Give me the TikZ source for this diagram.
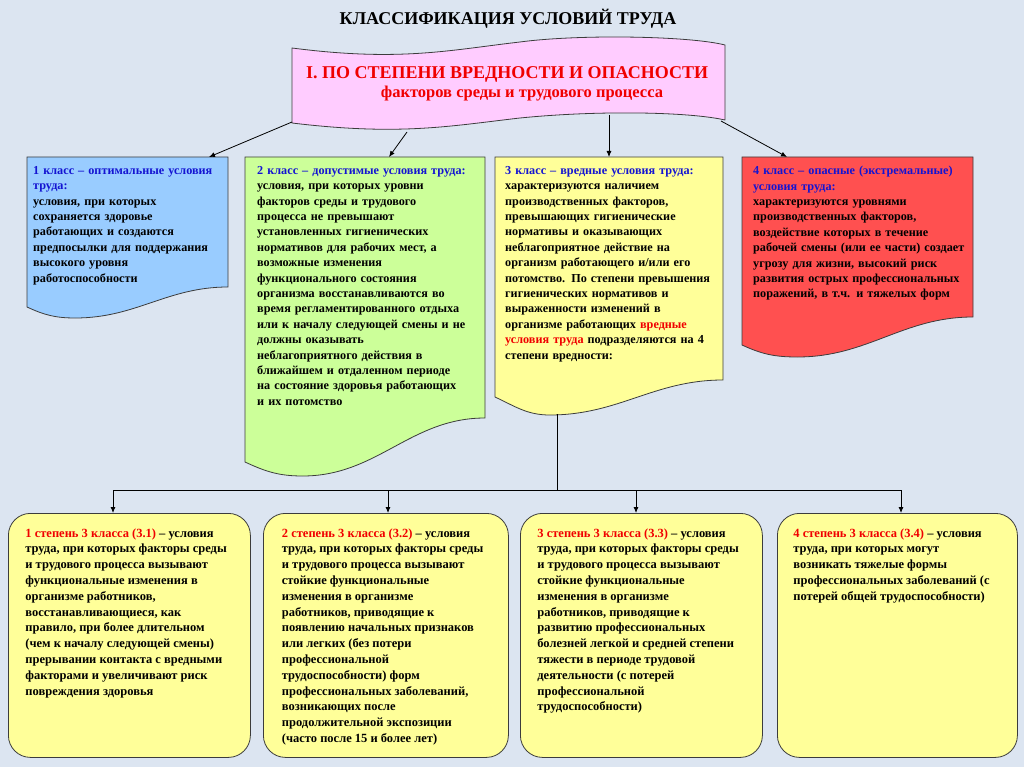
\documentclass[tikz,border=0pt]{standalone}
\usepackage{fontspec}
\setmainfont{Liberation Serif}
\usepackage{xcolor}
\usepackage{tikz}
\usetikzlibrary{arrows.meta, positioning, calc}

\definecolor{bgblue}{RGB}{220,229,241}
\definecolor{edgegray}{RGB}{60,60,60}
\definecolor{bannerpink}{RGB}{255,204,255}
\definecolor{classblue}{RGB}{153,204,255}
\definecolor{classgreen}{RGB}{204,255,153}
\definecolor{classyellow}{RGB}{255,255,153}
\definecolor{classred}{RGB}{255,80,80}
\definecolor{degyellow}{RGB}{255,255,153}
\definecolor{hdblue}{RGB}{20,20,210}
\definecolor{degred}{RGB}{240,0,0}

% document shape with a wavy bottom: fill, x1, x2, ytop, yleft, ylow, yright
\newcommand{\docshape}[7]{%
  \pgfmathsetmacro{\xlow}{#2+0.24*(#3-#2)}%
  \draw[draw=edgegray, line width=0.8pt, fill=#1] (#2,#4) -- (#3,#4) -- (#3,#7)
    to[out=180,in=0] (\xlow,#6) to[out=180,in=-25] (#2,#5) -- cycle;}
\newcommand{\degpar}[1]{\parbox[t][214pt][t]{208pt}{\raggedright #1}}

\begin{document}
\begin{tikzpicture}[x=1pt, y=-1pt,
    boxline/.style={draw=edgegray, line width=0.8pt},
    classtext/.style={anchor=north west, inner xsep=10pt, inner ysep=9pt, align=left,
                      font=\rmfamily\bfseries\fontsize{12.2}{15.4}\selectfont},
    degbox/.style={boxline, fill=degyellow, rounded corners=22pt, anchor=north west,
                   inner xsep=17pt, inner ysep=15pt, font=\rmfamily\bfseries\fontsize{12.5}{15.8}\selectfont},
    arr/.style={-{Latex[length=6pt,width=5pt]}, line width=0.8pt, black},
    wire/.style={line width=0.8pt, black}
]
\fill[bgblue] (0,0) rectangle (1024,767);
\useasboundingbox (0,0) rectangle (1024,767);

% title
\node[font=\rmfamily\bfseries\fontsize{18}{21}\selectfont] (title) at (508,19) {КЛАССИФИКАЦИЯ УСЛОВИЙ ТРУДА};

% banner
\draw[boxline, fill=bannerpink] (292,48) .. controls (400,62) and (450,50) .. (520,42)
  .. controls (580,34) and (690,36) .. (725,45) -- (725,120)
  .. controls (690,112) and (600,110) .. (520,118)
  .. controls (450,126) and (400,136) .. (292,123) -- cycle;
\node[align=center, text=degred, font=\rmfamily\bfseries] (banner) at (512,84)
  {{\fontsize{18}{20}\selectfont I. ПО СТЕПЕНИ ВРЕДНОСТИ И ОПАСНОСТИ\hspace*{10pt}}\\[3pt]
   {\fontsize{16.5}{19}\selectfont\hspace*{20pt}факторов среды и трудового процесса}};
\coordinate (b1) at (292,122);
\coordinate (b2) at (407,132);
\coordinate (b3) at (609,115);
\coordinate (b4) at (721,121);

% classes
\docshape{classblue}{27}{228}{157}{307}{318}{287}
\docshape{classgreen}{245}{485}{157}{462}{476}{418}
\docshape{classyellow}{495}{723}{157}{397}{415}{380}
\docshape{classred}{742}{973}{157}{345}{357}{317}

\node[classtext, inner xsep=6pt, text width=205pt] (c1) at (27,157)
  {\textcolor{hdblue}{1 класс – оптимальные условия\\ труда:}\\
   условия, при которых\\ сохраняется здоровье\\ работающих и создаются\\
   предпосылки для поддержания\\ высокого уровня\\ работоспособности};
\node[classtext, inner xsep=12pt, text width=235pt] (c2) at (245,157)
  {\textcolor{hdblue}{2 класс – допустимые условия труда:}\\
   условия, при которых уровни\\ факторов среды и трудового\\ процесса не превышают\\
   установленных гигиенических\\ нормативов для рабочих мест, а\\ возможные изменения\\
   функционального состояния\\ организма восстанавливаются во\\
   время регламентированного отдыха\\ или к началу следующей смены и не\\
   должны оказывать\\ неблагоприятного действия в\\ ближайшем и отдаленном периоде\\
   на состояние здоровья работающих\\ и их потомство};
\node[classtext, text width=235pt] (c3) at (495,157)
  {\textcolor{hdblue}{3 класс – вредные условия труда:}\\
   характеризуются наличием\\ производственных факторов,\\ превышающих гигиенические\\
   нормативы и оказывающих\\ неблагоприятное действие на\\ организм работающего и/или его\\
   потомство. По степени превышения\\ гигиенических нормативов и\\ выраженности изменений в\\
   организме работающих \textcolor{degred}{вредные}\\
   \textcolor{degred}{условия труда} подразделяются на 4\\ степени вредности:};
\node[classtext, inner xsep=11pt, text width=240pt] (c4) at (742,157)
  {\textcolor{hdblue}{4 класс – опасные (экстремальные)\\ условия труда:}\\
   характеризуются уровнями\\ производственных факторов,\\ воздействие которых в течение\\
   рабочей смены (или ее части) создает\\ угрозу для жизни, высокий риск\\
   развития острых профессиональных\\ поражений, в т.ч. и тяжелых форм};

\draw[arr] (b1) -- ([xshift=182pt]c1.north west);
\draw[arr] (b2) -- ([xshift=144pt]c2.north west);
\draw[arr] (b3) -- (b3 |- c3.north west);
\draw[arr] (b4) -- ([xshift=45pt]c4.north west);

% degrees of class 3
\node[degbox] (d1) at (8,513)
  {\degpar{\textcolor{degred}{1 степень 3 класса (3.1)} – условия\\ труда, при которых факторы среды\\
   и трудового процесса вызывают\\ функциональные изменения в\\ организме работников,\\
   восстанавливающиеся, как\\ правило, при более длительном\\ (чем к началу следующей смены)\\
   прерывании контакта с вредными\\ факторами и увеличивают риск\\ повреждения здоровья}};
\node[degbox, inner xsep=18.5pt] (d2) at (263,513)
  {\degpar{\textcolor{degred}{2 степень 3 класса (3.2)} – условия\\ труда, при которых факторы среды\\
   и трудового процесса вызывают\\ стойкие функциональные\\ изменения в организме\\
   работников, приводящие к\\ появлению начальных признаков\\ или легких (без потери\\
   профессиональной\\ трудоспособности) форм\\ профессиональных заболеваний,\\
   возникающих после\\ продолжительной экспозиции\\ (часто после 15 и более лет)}};
\node[degbox] (d3) at (520,513)
  {\degpar{\textcolor{degred}{3 степень 3 класса (3.3)} – условия\\ труда, при которых факторы среды\\
   и трудового процесса вызывают\\ стойкие функциональные\\ изменения в организме\\
   работников, приводящие к\\ развитию профессиональных\\ болезней легкой и средней степени\\
   тяжести в периоде трудовой\\ деятельности (с потерей\\ профессиональной\\ трудоспособности)}};
\node[degbox, inner xsep=16pt] (d4) at (777,513)
  {\degpar{\textcolor{degred}{4 степень 3 класса (3.4)} – условия\\ труда, при которых могут\\
   возникать тяжелые формы\\ профессиональных заболеваний (с\\ потерей общей трудоспособности)}};

% bus from class 3 to the degrees
\coordinate (c3b) at (557,414);
\coordinate (bus) at (557,490);
\coordinate (t1) at ([xshift=105pt]d1.north west);
\coordinate (t2) at ([xshift=125pt]d2.north west);
\coordinate (t3) at ([xshift=116pt]d3.north west);
\coordinate (t4) at ([xshift=124pt]d4.north west);
\draw[wire] (c3b) -- (bus);
\draw[wire] (t1 |- bus) -- (t4 |- bus);
\foreach \t in {t1,t2,t3,t4}
  \draw[arr] (\t |- bus) -- (\t);
\end{tikzpicture}
\end{document}
